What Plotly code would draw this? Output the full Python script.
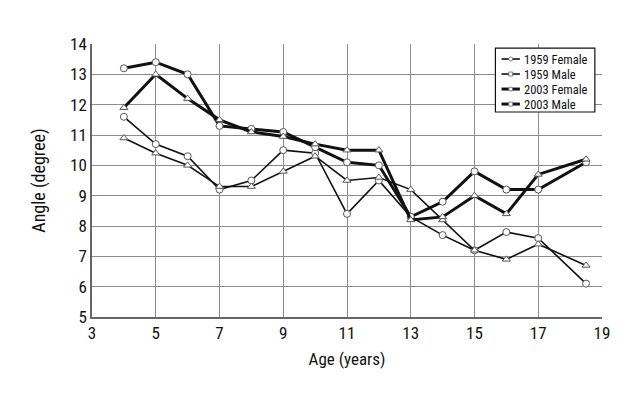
import plotly.graph_objects as go

ages = [4, 5, 6, 7, 8, 9, 10, 11, 12, 13, 14, 15, 16, 17, 18.5]
f1959 = [11.6, 10.7, 10.3, 9.2, 9.5, 10.5, 10.4, 8.4, 9.5, 8.3, 7.7, 7.2, 7.8, 7.6, 6.1]
m1959 = [10.9, 10.4, 10.0, 9.3, 9.3, 9.8, 10.3, 9.5, 9.6, 9.2, 8.2, 7.2, 6.9, 7.4, 6.7]
f2003 = [13.2, 13.4, 13.0, 11.3, 11.2, 11.1, 10.6, 10.1, 10.0, 8.3, 8.8, 9.8, 9.2, 9.2, 10.1]
m2003 = [11.9, 13.0, 12.2, 11.5, 11.1, 10.95, 10.7, 10.5, 10.5, 8.2, 8.3, 9.0, 8.4, 9.7, 10.2]

series_names = ["1959 Female", "1959 Male", "2003 Female", "2003 Male"]
series_values = [f1959, m1959, f2003, m2003]
series_symbols = ["circle", "triangle-up", "circle", "triangle-up"]
series_widths = [1.6, 1.6, 3, 3]

FONT = "Roboto Condensed, Roboto, sans-serif"

fig = go.Figure()
for name, vals, sym, w in zip(series_names, series_values, series_symbols, series_widths):
    fig.add_trace(go.Scatter(
        x=ages, y=vals, name=name, mode="lines+markers",
        line=dict(color="#111111", width=w),
        marker=dict(symbol=sym, size=7, color="white",
                    line=dict(color="#555555", width=1)),
        showlegend=False,
    ))

# Compact legend drawn in paper coordinates
LEG_X0, LEG_X1, LEG_Y0, LEG_Y1 = 0.791, 0.986, 0.751, 0.985
LEG_ROWS = [0.945, 0.890, 0.835, 0.780]
LEG_LINE_X = (0.803, 0.839)
LEG_TEXT_X = 0.846

shapes = [dict(type="rect", xref="paper", yref="paper",
               x0=LEG_X0, x1=LEG_X1, y0=LEG_Y0, y1=LEG_Y1,
               line=dict(color="#111111", width=1.2), fillcolor="white",
               layer="above")]
annotations = []
for name, sym, w, ry in zip(series_names, series_symbols, series_widths, LEG_ROWS):
    shapes.append(dict(type="line", xref="paper", yref="paper",
                       x0=LEG_LINE_X[0], x1=LEG_LINE_X[1], y0=ry, y1=ry,
                       line=dict(color="#111111", width=w), layer="above"))
    cx = (LEG_LINE_X[0] + LEG_LINE_X[1]) / 2
    shapes.append(dict(type="circle" if sym == "circle" else "rect",
                       xref="paper", yref="paper",
                       xsizemode="pixel", ysizemode="pixel",
                       xanchor=cx, yanchor=ry, x0=-2, x1=2, y0=-2, y1=2,
                       line=dict(color="#666666", width=0.8),
                       fillcolor="white", layer="above"))
    annotations.append(dict(xref="paper", yref="paper", x=LEG_TEXT_X, y=ry,
                            xanchor="left", yanchor="middle", showarrow=False,
                            borderpad=0,
                            text=name, font=dict(family=FONT, size=12.5, color="#111111")))

# The page body has an 8px default margin, so the figure is offset by 8px.
fig.update_layout(
    width=640, height=400,
    margin=dict(l=84, r=46, t=36, b=91),
    paper_bgcolor="white", plot_bgcolor="white",
    font=dict(family=FONT, size=17, color="#111111"),
    showlegend=False,
    shapes=shapes, annotations=annotations,
    xaxis=dict(range=[3, 19], dtick=2, tick0=3,
               showgrid=True, gridcolor="#8c8c8c", gridwidth=1,
               showline=True, linecolor="#666666", linewidth=1.5,
               ticks="", zeroline=False,
               title=dict(text="Age (years)", standoff=11,
                          font=dict(family=FONT, size=17))),
    yaxis=dict(range=[5, 14], dtick=1,
               showgrid=True, gridcolor="#8c8c8c", gridwidth=1,
               showline=True, linecolor="#666666", linewidth=1.5,
               ticks="", zeroline=False,
               title=dict(text="Angle (degree)", standoff=20,
                          font=dict(family=FONT, size=18))),
)

fig.write_html("out.html")
